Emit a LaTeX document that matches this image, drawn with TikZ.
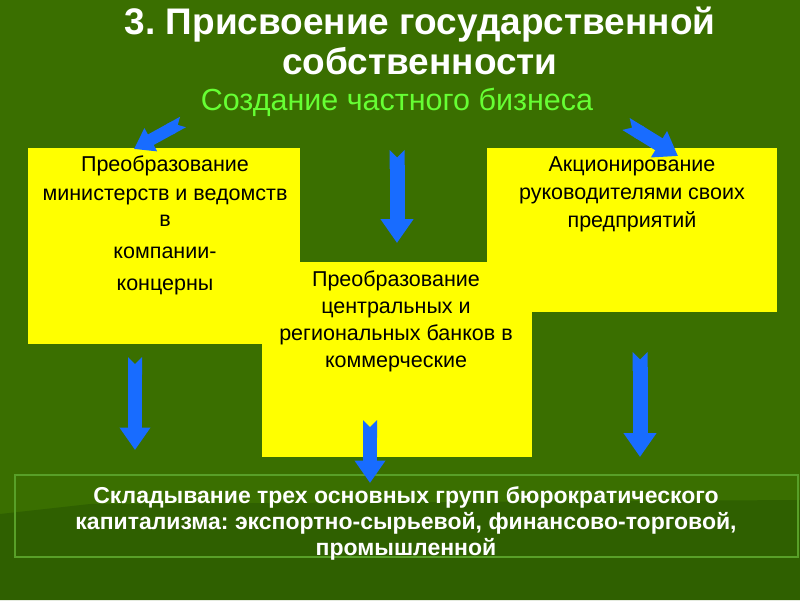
\documentclass[tikz,border=0pt]{standalone}
\usepackage{fontspec}
\setmainfont{Liberation Sans}
\usetikzlibrary{arrows.meta}
\definecolor{bggreen}{RGB}{58,111,0}
\definecolor{bgdark}{RGB}{47,96,0}
\definecolor{framegreen}{RGB}{88,160,40}
\definecolor{subgreen}{RGB}{102,255,51}
\definecolor{boxyellow}{RGB}{255,255,0}
\definecolor{arrowblue}{RGB}{24,108,255}
\frenchspacing
\begin{document}
\begin{tikzpicture}[x=1pt,y=-1pt,
  yellowbox/.style={fill=boxyellow,draw=none},
  boxtext/.style={text=black,align=center,font=\fontsize{21.5}{27}\selectfont},
  blockarrow/.style={draw=arrowblue,line width=#1,
     {Triangle Cap[reversed]}-{Triangle[width=2.1*#1,length=1.6*#1]}},
  blockarrow/.default=14pt]
% background
\fill[bggreen] (0,0) rectangle (800,600);
\fill[bgdark] (0,514) -- (90,504) -- (800,500) -- (800,600) -- (0,600) -- cycle;
\useasboundingbox (0,0) rectangle (800,600);
% title
\node[text=white,align=center,font=\fontsize{37}{40}\selectfont\bfseries] (title) at (420,41)
  {3. Присвоение государственной\\собственности};
\node[text=subgreen,font=\fontsize{30.5}{34}\selectfont] (sub) at (397,102) {Создание частного бизнеса};
% yellow boxes
\path[yellowbox] (28,148) rectangle (300,344);
\path[yellowbox] (487,148) rectangle (777,312);
\path[yellowbox] (262,262) rectangle (532,457);
% texts
\node[boxtext] (tL) at (165,225)
  {Преобразование\\[2pt]министерств и ведомств\\[-1pt]в\\[5pt]компании-\\[5pt]концерны};
\node[boxtext] (tR) at (632,194)
  {Акционирование\\[1pt]руководителями своих\\[1pt]предприятий};
\node[boxtext] (tM) at (396,321)
  {Преобразование\\центральных и\\региональных банков в\\коммерческие};
% bottom box
\node[draw=framegreen,line width=1.5pt,minimum width=783,minimum height=82,inner sep=0pt] (bot) at (406.5,516) {};
\node[text=white,align=center,font=\fontsize{23}{26}\selectfont\bfseries] (tB) at (406,523)
  {Складывание трех основных групп бюрократического\\капитализма: экспортно-сырьевой, финансово-торговой,\\промышленной};
% arrows
\coordinate (a1s) at (183,122); \coordinate (a1e) at (134,149);
\coordinate (a2s) at (626,124); \coordinate (a2e) at (678,156);
\coordinate (a3s) at (397,150); \coordinate (a3e) at (397,243);
\coordinate (a4s) at (135,357); \coordinate (a4e) at (135,450);
\coordinate (a5s) at (640,352); \coordinate (a5e) at (640,457);
\coordinate (a6s) at (370,420); \coordinate (a6e) at (370,483);
\draw[blockarrow=12pt] (a1s) -- (a1e);
\draw[blockarrow=14pt] (a2s) -- (a2e);
\draw[blockarrow=15pt] (a3s) -- (a3e);
\draw[blockarrow=14pt] (a4s) -- (a4e);
\draw[blockarrow=15pt] (a5s) -- (a5e);
\draw[blockarrow=14pt] (a6s) -- (a6e);
\end{tikzpicture}
\end{document}
